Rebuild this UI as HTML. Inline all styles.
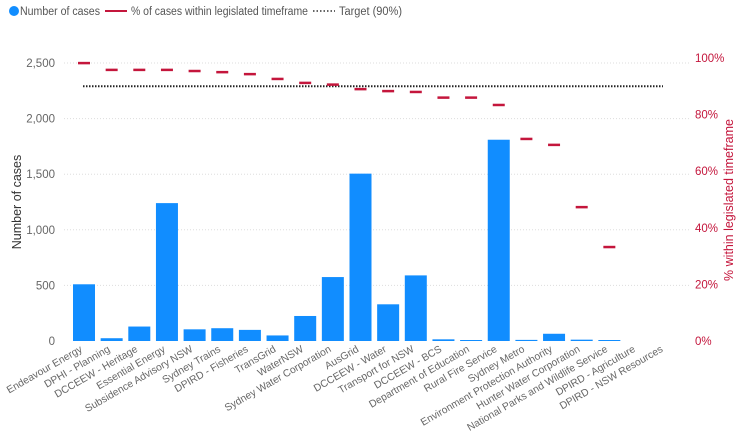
<!DOCTYPE html>
<html><head><meta charset="utf-8"><style>
html,body{margin:0;padding:0;background:#fff;}
svg{display:block;font-family:"Liberation Sans",sans-serif;}
</style></head><body>
<svg id="chart" width="739" height="438">
<g>
  <circle cx="14" cy="11" r="5" fill="#118DFF"/>
  <text x="20" y="15" font-size="11.5" textLength="80" lengthAdjust="spacingAndGlyphs" fill="#555">Number of cases</text>
  <line x1="105" y1="11" x2="127" y2="11" stroke="#C4163C" stroke-width="2"/>
  <text x="131" y="15" font-size="11.5" textLength="177" lengthAdjust="spacingAndGlyphs" fill="#555">% of cases within legislated timeframe</text>
  <line x1="313" y1="11" x2="335" y2="11" stroke="#333" stroke-width="1.5" stroke-dasharray="1.5,2"/>
  <text x="339" y="15" font-size="11.5" textLength="63" lengthAdjust="spacingAndGlyphs" fill="#555">Target (90%)</text>
</g>
<text transform="translate(21,202) rotate(-90)" text-anchor="middle" font-size="12.5" fill="#333">Number of cases</text>
<text transform="translate(733,200) rotate(-90)" text-anchor="middle" font-size="12.5" fill="#C4163C">% within legislated timeframe</text>
<g id="grid"></g><g id="bars"></g><g id="target"></g><g id="dashes"></g><g id="labels"></g>
</svg>
<script>
const categories=["Endeavour Energy","DPHI - Planning","DCCEEW - Heritage","Essential Energy","Subsidence Advisory NSW","Sydney Trains","DPIRD - Fisheries","TransGrid","WaterNSW","Sydney Water Corporation","AusGrid","DCCEEW - Water","Transport for NSW","DCCEEW - BCS","Department of Education","Rural Fire Service","Sydney Metro","Environment Protection Authority","Hunter Water Corporation","National Parks and Wildlife Service","DPIRD - Agriculture","DPIRD - NSW Resources"];
const cases=[510,25,130,1240,105,115,100,50,225,575,1505,330,590,15,5,1810,10,65,12,5,0,0];
const pct=[98.2,95.8,95.8,95.8,95.4,95,94.3,92.6,91.2,90.6,89,88.3,88,86,86,83.4,71.4,69.3,47.3,33.2,null,null];
const target=90;
const leftTicks=[0,500,1000,1500,2000,2500];
const leftTickLabels=["0","500","1,000","1,500","2,000","2,500"];
const rightTicks=[0,20,40,60,80,100];
const rightTickLabels=["0%","20%","40%","60%","80%","100%"];

const NS="http://www.w3.org/2000/svg";
const y0=341, x0=84, step=27.65, bw=22;
const yL=v=>y0-v*278/2500;
const yR=v=>y0-v*2.83;
const xC=i=>x0+i*step;
function mk(tag,attrs,parent){const e=document.createElementNS(NS,tag);for(const k in attrs)e.setAttribute(k,attrs[k]);document.getElementById(parent).appendChild(e);return e;}

leftTicks.forEach((t,i)=>{
  if(t>0){const l=mk('line',{x1:64,x2:690,y1:yL(t),y2:yL(t),stroke:'#ddd','stroke-dasharray':'1,2'},'grid');
  
  }
  const tx=mk('text',{x:55,y:yL(t)+4,'text-anchor':'end','font-size':11.5,fill:'#666'},'grid');tx.textContent=leftTickLabels[i];
  
  
});
rightTicks.forEach((t,i)=>{
  const tx=mk('text',{x:695,y:yR(t)+4,'font-size':11.5,fill:'#C4163C'},'grid');tx.textContent=rightTickLabels[i];
  
  
});
cases.forEach((v,i)=>{
  const h=Math.max(v*278/2500,v>0?1:0);
  const r=mk('rect',{x:xC(i)-bw/2,y:y0-h,width:bw,height:h,fill:'#118DFF'},'bars');
  
  
});
const tl=mk('line',{x1:83,x2:663,y1:yR(target),y2:yR(target),stroke:'#222','stroke-width':2,'stroke-dasharray':'1.5,1.5'},'target');


pct.forEach((v,i)=>{
  if(v===null)return;
  const d=mk('line',{x1:xC(i)-6,x2:xC(i)+6,y1:yR(v),y2:yR(v),stroke:'#C4163C','stroke-width':2.5},'dashes');
  
  
});
categories.forEach((c,i)=>{
  const t=mk('text',{transform:`translate(${xC(i)-1},351) rotate(-30)`,'text-anchor':'end','font-size':10.3,fill:'#666'},'labels');
  t.textContent=c;
  
  
});
</script>
</body></html>
